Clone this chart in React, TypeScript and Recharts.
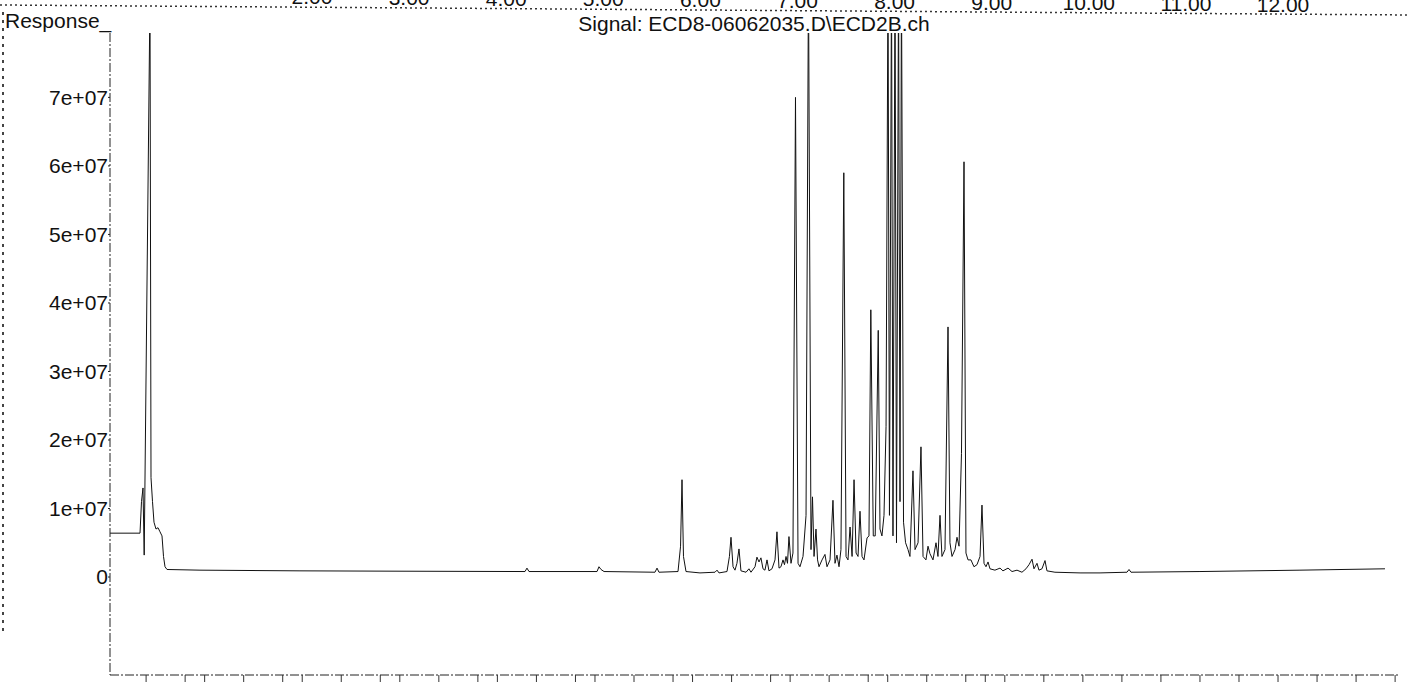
import { LineChart, Line, XAxis, YAxis } from "recharts";

// retention time (min) of each trace vertex
const retentionTimes = [
  0.03, 0.3375, 0.3528, 0.3682, 0.3805, 0.4399, 0.4502, 0.4656, 0.4809, 0.5014,
  0.5219, 0.5424, 0.5629, 0.5783, 0.5937, 0.6142, 0.9523, 1.977, 3.002, 4.283,
  4.303, 4.324, 5.021, 5.041, 5.062, 5.093, 5.615, 5.636, 5.656, 5.851,
  5.877, 5.892, 5.907, 5.933, 6.076, 6.23, 6.251, 6.271, 6.353, 6.378,
  6.394, 6.415, 6.435, 6.455, 6.476, 6.496, 6.548, 6.578, 6.599, 6.64,
  6.66, 6.681, 6.701, 6.722, 6.742, 6.763, 6.783, 6.814, 6.845, 6.865,
  6.886, 6.906, 6.927, 6.942, 6.958, 6.973, 6.988, 7.009, 7.029, 7.055,
  7.081, 7.101, 7.132, 7.163, 7.188, 7.214, 7.229, 7.245, 7.265, 7.281,
  7.296, 7.327, 7.357, 7.378, 7.409, 7.439, 7.46, 7.48, 7.501, 7.521,
  7.55, 7.573, 7.593, 7.614, 7.635, 7.655, 7.676, 7.696, 7.716, 7.737,
  7.757, 7.788, 7.808, 7.827, 7.852, 7.872, 7.903, 7.921, 7.941, 7.962,
  7.983, 8.003, 8.018, 8.039, 8.054, 8.075, 8.09, 8.111, 8.126, 8.141,
  8.162, 8.183, 8.208, 8.228, 8.259, 8.28, 8.311, 8.341, 8.362, 8.392,
  8.413, 8.433, 8.464, 8.495, 8.515, 8.536, 8.556, 8.587, 8.618, 8.638,
  8.659, 8.69, 8.71, 8.731, 8.756, 8.782, 8.802, 8.823, 8.853, 8.884,
  8.915, 8.946, 8.966, 8.987, 9.007, 9.028, 9.048, 9.099, 9.151, 9.181,
  9.233, 9.274, 9.325, 9.376, 9.417, 9.448, 9.479, 9.499, 9.53, 9.55,
  9.581, 9.612, 9.632, 9.714, 9.971, 10.176, 10.452, 10.473, 10.493, 11.2,
  12.225, 13.096,
];

// detector response at each vertex (peaks above the frame are clipped)
const responses = [
  6.4e6, 6.4e6, 1.1e7, 1.3e7, 3.2e6, 8.5e7, 1.45e7, 1.1e7, 8e6, 7e6,
  7.2e6, 6.6e6, 6e6, 3e6, 1.5e6, 1.1e6, 1e6, 9e5, 8.5e5, 8e5,
  1.3e6, 8e5, 8e5, 1.5e6, 1.1e6, 8e5, 7e5, 1.3e6, 7e5, 8e5,
  4.5e6, 1.42e7, 3e6, 8e5, 6e5, 7e5, 1e6, 6e5, 8e5, 3e6,
  5.8e6, 1.5e6, 1e6, 2e6, 4.1e6, 9e5, 7e5, 1.2e6, 7e5, 1.5e6,
  2.9e6, 2.2e6, 2.8e6, 1.2e6, 1e6, 2.5e6, 9e5, 1.2e6, 2.5e6, 6.6e6,
  1.3e6, 1.5e6, 2.5e6, 1.8e6, 3e6, 2e6, 5.9e6, 2e6, 3.5e6, 7e7,
  2e6, 1.5e6, 3e6, 9e6, 8.8e7, 4e6, 1.17e7, 3e6, 7e6, 2.5e6,
  1.5e6, 2.5e6, 3.3e6, 1.5e6, 2.5e6, 1.12e7, 2e6, 3.2e6, 1.5e6, 4e6,
  5.9e7, 3e6, 2.5e6, 7.3e6, 3e6, 1.42e7, 3.5e6, 3e6, 9.6e6, 3e6,
  2.5e6, 5.7e6, 6e6, 3.9e7, 6e6, 6e6, 3.6e7, 7e6, 6e6, 9e6,
  2.2e7, 8.8e7, 9e6, 8.8e7, 6e6, 8.8e7, 5e6, 8.8e7, 1.1e7, 8.8e7,
  8e6, 5e6, 4e6, 3e6, 1.55e7, 4e6, 5e6, 1.9e7, 3e6, 2.5e6,
  4.5e6, 3.4e6, 2.5e6, 5e6, 3e6, 9e6, 3e6, 4e6, 3.65e7, 5e6,
  3e6, 4e6, 5.8e6, 4.5e6, 1.8e7, 6.06e7, 3.5e6, 2.5e6, 2.5e6, 1.5e6,
  1.8e6, 3e6, 1.05e7, 2e6, 1.5e6, 2.2e6, 1.2e6, 1e6, 1.3e6, 9e5,
  1.3e6, 8e5, 1e6, 7e5, 1.2e6, 1.8e6, 2.6e6, 1.2e6, 2e6, 1e6,
  1.2e6, 2.4e6, 9e5, 7e5, 6e5, 6e5, 7e5, 1.1e6, 7e5, 8e5,
  1e6, 1.2e6,
];

const yTicks = [0, 1e7, 2e7, 3e7, 4e7, 5e7, 6e7, 7e7];
const yTickLabels = ["0", "1e+07", "2e+07", "3e+07", "4e+07", "5e+07", "6e+07", "7e+07"];

// minor time ticks along the bottom edge (every 0.2 min)
const timeTicks = Array.from({ length: 66 }, (_, i) => Math.round((i + 1) * 0.2 * 10) / 10);

// partly cut-off time labels of the previous chart on the page
const prevTicks = [2, 3, 4, 5, 6, 7, 8, 9, 10, 11, 12];
const prevTickLabels = ["2.00", "3.00", "4.00", "5.00", "6.00", "7.00", "8.00", "9.00", "10.00", "11.00", "12.00"];

const data = retentionTimes.map((t, i) => ({ time: t, response: responses[i] }));

const FONT = "'Liberation Sans', Arial, sans-serif";

const PrevTick = (props: any) => {
  const { x, payload } = props;
  // the scan is slightly skewed, so the labels sink toward the right
  const baseline = 4 + (8 * (x - 312)) / 971;
  const idx = prevTicks.indexOf(payload.value);
  return (
    <text x={x} y={baseline} textAnchor="middle" fontSize={21} fontFamily={FONT} fill="#111">
      {prevTickLabels[idx]}
    </text>
  );
};

const NoLabel = () => <g />;

export default function App() {
  return (
    <div style={{ position: "absolute", left: 0, top: 0, width: 1410, height: 687, background: "#fff" }}>
      <LineChart width={1410} height={687} data={data} margin={{ top: 0, right: 10, bottom: 0, left: 0 }}>
        <XAxis
          dataKey="time"
          type="number"
          domain={[0.03, 13.25]}
          ticks={timeTicks}
          tick={<NoLabel />}
          tickSize={7}
          height={12}
          allowDataOverflow
          axisLine={{ stroke: "#222", strokeDasharray: "9 2 2 2" }}
          tickLine={{ stroke: "#333" }}
        />
        <XAxis
          xAxisId="prev"
          dataKey="time"
          orientation="top"
          type="number"
          domain={[-0.08, 13.205]}
          allowDataOverflow
          ticks={prevTicks}
          interval={0}
          height={33}
          axisLine={false}
          tickLine={false}
          tick={<PrevTick />}
        />
        <YAxis
          type="number"
          domain={[-1.43e7, 7.94e7]}
          allowDataOverflow
          ticks={yTicks}
          width={110}
          tickSize={2}
          tickMargin={0}
          tickFormatter={(v: number) => yTickLabels[yTicks.indexOf(v)]}
          tick={{ fontSize: 21, fontFamily: FONT, fill: "#111" }}
          axisLine={{ stroke: "#222", strokeDasharray: "9 2 2 2" }}
          tickLine={{ stroke: "#222" }}
        />
        <Line
          type="linear"
          dataKey="response"
          stroke="#111"
          strokeWidth={1}
          dot={false}
          isAnimationActive={false}
        />
      </LineChart>
      <svg
        width={1410}
        height={687}
        style={{ position: "absolute", left: 0, top: 0, pointerEvents: "none" }}
      >
        <line x1={0} y1={5} x2={1410} y2={15} stroke="#333" strokeWidth={1.5} strokeDasharray="2 3" />
        <line x1={3} y1={12} x2={3} y2={633} stroke="#444" strokeWidth={2} strokeDasharray="3 5" />
        <text x={5} y={28} fontSize={21} fontFamily={FONT} fill="#111">
          Response_
        </text>
        <text x={754} y={31} fontSize={21} fontFamily={FONT} fill="#111" textAnchor="middle">
          {"Signal: ECD8-06062035.D\\ECD2B.ch"}
        </text>
      </svg>
    </div>
  );
}
